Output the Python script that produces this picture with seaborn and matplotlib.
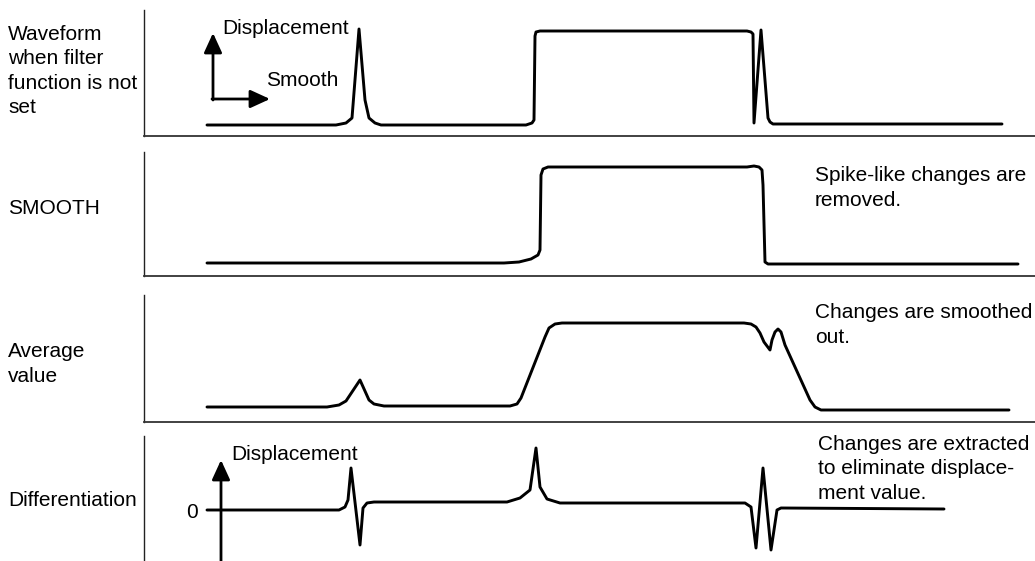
import numpy as np
import seaborn as sns
import matplotlib.pyplot as plt

# waveform data: time (t) and level (v)
raw_t = [63, 192, 202, 208, 215, 221, 225, 231, 237, 382, 388, 390, 391, 392, 396,
         603, 607, 609, 610, 617, 624, 626, 629, 858]
raw_v = [11, 11, 13, 18, 107, 36, 18, 13, 11, 11, 13, 16, 100, 104, 105,
         105, 104, 102, 13, 106, 18, 14, 12, 12]

smooth_t = [63, 360, 375, 387, 394, 396, 397, 399, 404, 603, 610, 615, 618, 619,
            621, 624, 628, 874]
smooth_v = [13, 13, 14, 17, 21, 26, 101, 107, 109, 109, 110, 109, 106, 91,
            14, 12, 12, 12]

avg_t = [63, 183, 195, 202, 216, 225, 230, 240, 366, 373, 377, 401, 405, 411, 418,
         600, 607, 612, 616, 620, 626, 628, 631, 634, 637, 641, 666, 671, 677, 685, 865]
avg_v = [15, 15, 17, 21, 42, 22, 18, 16, 16, 18, 24, 85, 94, 98, 99,
         99, 98, 95, 89, 80, 72, 82, 90, 93, 90, 77, 22, 15, 12, 12, 12]

diff_t = [63, 195, 201, 204, 207, 216, 219, 223, 230, 363, 376, 386, 392, 396, 403,
          416, 601, 607, 612, 619, 627, 633, 637, 800]
diff_v = [51, 51, 54, 61, 93, 16, 53, 58, 59, 59, 63, 71, 113, 74, 62,
          58, 58, 54, 13, 93, 11, 51, 53, 52]

left_labels = ["Waveform\nwhen filter\nfunction is not\nset", "SMOOTH",
               "Average\nvalue", "Differentiation"]
right_notes = ["Spike-like changes are\nremoved.", "Changes are smoothed\nout.",
               "Changes are extracted\nto eliminate displace-\nment value."]

sns.set_theme(style="white")
plt.rcParams['font.family'] = ['Liberation Sans', 'DejaVu Sans']
plt.rcParams['text.color'] = 'black'

W, H = 1035, 561
fig = plt.figure(figsize=(W / 100, H / 100), dpi=100)

# panel boxes in pixels: top, bottom
boxes = [(10, 136), (152, 276), (295, 422), (436, 561)]
series = [(raw_t, raw_v), (smooth_t, smooth_v), (avg_t, avg_v), (diff_t, diff_v)]
axes = []
for i, ((top, bot), (t, v)) in enumerate(zip(boxes, series)):
    ax = fig.add_axes([144 / W, 1 - bot / H, (W - 144) / W, (bot - top) / H])
    sns.lineplot(x=t, y=v, ax=ax, sort=False, estimator=None, color="black",
                 linewidth=2.1)
    ax.set_xlim(0, W - 144)
    ax.set_ylim(0, bot - top)
    ax.set_xticks([])
    ax.set_yticks([])
    for s in ["top", "right"]:
        ax.spines[s].set_visible(False)
    ax.spines["left"].set_color("#222222")
    ax.spines["left"].set_linewidth(1.0)
    ax.spines["bottom"].set_color("#333333")
    ax.spines["bottom"].set_linewidth(1.3)
    if i == 3:
        ax.spines["bottom"].set_visible(False)
    ax.patch.set_alpha(0)
    axes.append(ax)

fs = 15
head = dict(arrowstyle="-|>,head_length=12,head_width=5.5", mutation_scale=1,
            color="black", lw=2, shrinkA=0, shrinkB=0)

# axis sketch in first panel
ax = axes[0]
ax.annotate("", xy=(69, 103), xytext=(69, 36), arrowprops=head)
ax.annotate("", xy=(126, 37), xytext=(68, 37), arrowprops=head)
ax.text(78, 108, "Displacement", fontsize=fs, va="center", ha="left")
ax.text(122, 56, "Smooth", fontsize=fs, va="center", ha="left")

# axis sketch in differentiation panel
ax = axes[3]
ax.annotate("", xy=(77, 101), xytext=(77, 0), arrowprops=head)
ax.text(87, 106, "Displacement", fontsize=fs, va="center", ha="left")
ax.text(48, 48, "0", fontsize=fs, va="center", ha="center")

for lab, y in zip(left_labels, [71, 209, 364, 500]):
    fig.text(8 / W, 1 - y / H, lab, fontsize=fs, va="center", ha="left",
             linespacing=1.35)

for note, x, y in zip(right_notes, [815, 815, 818], [188, 325, 469]):
    fig.text(x / W, 1 - y / H, note, fontsize=fs, va="center", ha="left",
             linespacing=1.35)

fig.savefig("out.png", dpi=100)
